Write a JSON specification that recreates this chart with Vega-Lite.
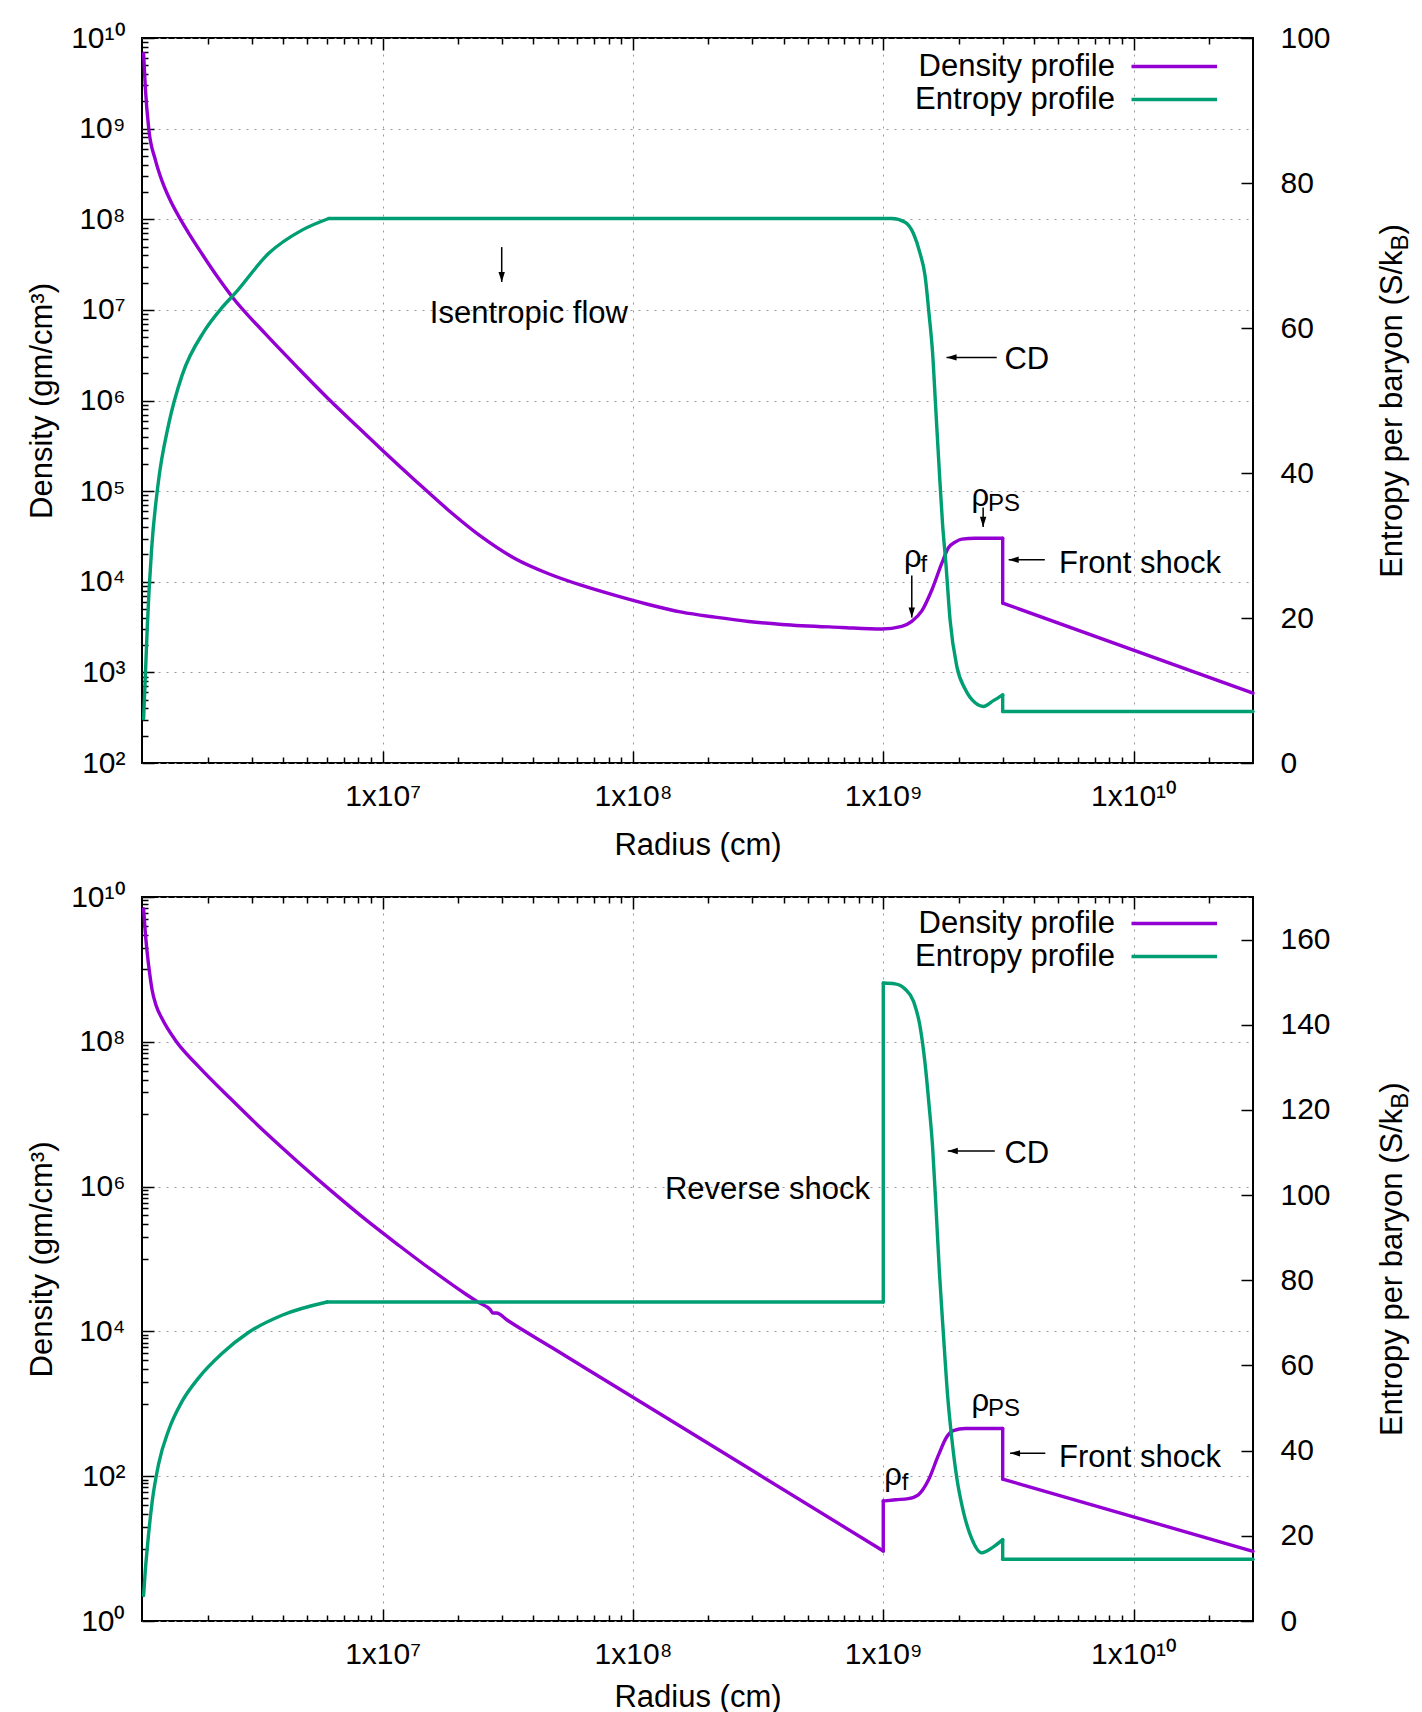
{
  "$schema": "https://vega.github.io/schema/vega-lite/v6.json",
  "background": "white",
  "padding": {"left": 25, "top": 22, "right": 4, "bottom": 0},
  "spacing": 134,
  "bounds": "flush",
  "config": {
    "font": "Liberation Sans",
    "view": {"stroke": "black", "strokeWidth": 2},
    "axis": {
      "labelFont": "Liberation Sans",
      "titleFont": "Liberation Sans",
      "labelColor": "black",
      "titleColor": "black",
      "titleFontWeight": "normal",
      "labelFontSize": 30,
      "titleFontSize": 31,
      "tickColor": "black",
      "tickWidth": 1.5,
      "domain": false,
      "labelOverlap": false,
      "labelFlush": false,
      "gridColor": "#999999",
      "gridDash": [2, 6],
      "gridWidth": 1
    },
    "line": {"strokeWidth": 3.4, "strokeJoin": "round", "strokeCap": "round", "interpolate": "monotone"},
    "text": {"color": "black", "font": "Liberation Sans"}
  },
  "datasets": {
    "topDensity": [
      {"seg": 1, "r": 1.1092e6, "rho": 6.761e9}, {"seg": 1, "r": 1.1272e6, "rho": 2.818e9}, {"seg": 1, "r": 1.1629e6, "rho": 1.0e9},
      {"seg": 1, "r": 1.2359e6, "rho": 4.519e8}, {"seg": 1, "r": 1.3183e6, "rho": 2.582e8}, {"seg": 1, "r": 1.4125e6, "rho": 1.648e8},
      {"seg": 1, "r": 1.5488e6, "rho": 1.021e8}, {"seg": 1, "r": 1.6982e6, "rho": 6.683e7}, {"seg": 1, "r": 1.8967e6, "rho": 4.159e7},
      {"seg": 1, "r": 2.1878e6, "rho": 2.317e7}, {"seg": 1, "r": 2.5119e6, "rho": 1.38e7}, {"seg": 1, "r": 3.3884e6, "rho": 5.495e6},
      {"seg": 1, "r": 4.6238e6, "rho": 2.239e6}, {"seg": 1, "r": 6.166e6, "rho": 1.0e6}, {"seg": 1, "r": 7.9433e6, "rho": 5.129e5},
      {"seg": 1, "r": 1.0e7, "rho": 2.812e5}, {"seg": 1, "r": 1.349e7, "rho": 1.312e5}, {"seg": 1, "r": 1.8365e7, "rho": 6.124e4},
      {"seg": 1, "r": 2.4946e7, "rho": 3.105e4}, {"seg": 1, "r": 3.3884e7, "rho": 1.795e4}, {"seg": 1, "r": 4.6026e7, "rho": 1.225e4},
      {"seg": 1, "r": 6.2517e7, "rho": 9099}, {"seg": 1, "r": 8.4918e7, "rho": 7063}, {"seg": 1, "r": 1.1535e8, "rho": 5610},
      {"seg": 1, "r": 1.5668e8, "rho": 4613}, {"seg": 1, "r": 2.1281e8, "rho": 4064}, {"seg": 1, "r": 2.8973e8, "rho": 3648},
      {"seg": 1, "r": 3.9355e8, "rho": 3381}, {"seg": 1, "r": 6.8234e8, "rho": 3133}, {"seg": 1, "r": 9.8628e8, "rho": 3013},
      {"seg": 1, "r": 1.1858e9, "rho": 3221}, {"seg": 1, "r": 1.3002e9, "rho": 3656}, {"seg": 1, "r": 1.4256e9, "rho": 4764},
      {"seg": 1, "r": 1.5631e9, "rho": 8110}, {"seg": 1, "r": 1.714e9, "rho": 1.603e4}, {"seg": 1, "r": 1.8197e9, "rho": 2.366e4},
      {"seg": 1, "r": 1.9364e9, "rho": 2.735e4}, {"seg": 1, "r": 2.0606e9, "rho": 2.958e4}, {"seg": 1, "r": 2.3281e9, "rho": 3.02e4},
      {"seg": 1, "r": 3.0e9, "rho": 3.02e4},
      {"seg": 2, "r": 3.0e9, "rho": 3.02e4}, {"seg": 2, "r": 3.0e9, "rho": 5821},
      {"seg": 3, "r": 3.0e9, "rho": 5821}, {"seg": 3, "r": 3.0e10, "rho": 589}
    ],
    "topEntropy": [
      {"seg": 1, "r": 1.1092e6, "s": 6.1}, {"seg": 1, "r": 1.1272e6, "s": 12}, {"seg": 1, "r": 1.1482e6, "s": 19},
      {"seg": 1, "r": 1.194e6, "s": 29.5}, {"seg": 1, "r": 1.2677e6, "s": 38.5}, {"seg": 1, "r": 1.3964e6, "s": 46.7},
      {"seg": 1, "r": 1.5812e6, "s": 53.5}, {"seg": 1, "r": 1.932e6, "s": 59.5}, {"seg": 1, "r": 2.2803e6, "s": 62.8},
      {"seg": 1, "r": 2.5763e6, "s": 64.8}, {"seg": 1, "r": 3.5075e6, "s": 70.3}, {"seg": 1, "r": 4.7643e6, "s": 73.5},
      {"seg": 1, "r": 6.0954e6, "s": 75.1},
      {"seg": 2, "r": 6.0954e6, "s": 75.1}, {"seg": 2, "r": 1.0814e9, "s": 75.1}, {"seg": 2, "r": 1.2218e9, "s": 74.6},
      {"seg": 2, "r": 1.3213e9, "s": 73.0}, {"seg": 2, "r": 1.4028e9, "s": 70.3}, {"seg": 2, "r": 1.4689e9, "s": 67.2},
      {"seg": 2, "r": 1.5241e9, "s": 61.9}, {"seg": 2, "r": 1.574e9, "s": 56.6}, {"seg": 2, "r": 1.6218e9, "s": 48.7},
      {"seg": 2, "r": 1.6711e9, "s": 40.8}, {"seg": 2, "r": 1.7258e9, "s": 32.9}, {"seg": 2, "r": 1.7783e9, "s": 27.6},
      {"seg": 2, "r": 1.8493e9, "s": 19.7}, {"seg": 2, "r": 1.9679e9, "s": 13.3}, {"seg": 2, "r": 2.1232e9, "s": 10.2},
      {"seg": 2, "r": 2.3281e9, "s": 8.3}, {"seg": 2, "r": 2.5119e9, "s": 7.8}, {"seg": 2, "r": 2.7542e9, "s": 8.6},
      {"seg": 2, "r": 3.0e9, "s": 9.4},
      {"seg": 3, "r": 3.0e9, "s": 9.4}, {"seg": 3, "r": 3.0e9, "s": 7.1},
      {"seg": 4, "r": 3.0e9, "s": 7.1}, {"seg": 4, "r": 3.0e10, "s": 7.1}
    ],
    "bottomDensity": [
      {"seg": 1, "r": 1.1092e6, "rho": 6.887e9}, {"seg": 1, "r": 1.1272e6, "rho": 3.162e9}, {"seg": 1, "r": 1.1455e6, "rho": 1.75e9},
      {"seg": 1, "r": 1.1722e6, "rho": 8.913e8}, {"seg": 1, "r": 1.1995e6, "rho": 5.2e8}, {"seg": 1, "r": 1.2445e6, "rho": 3.162e8},
      {"seg": 1, "r": 1.3152e6, "rho": 2.08e8}, {"seg": 1, "r": 1.4859e6, "rho": 1.05e8}, {"seg": 1, "r": 1.8408e6, "rho": 4.539e7},
      {"seg": 1, "r": 2.5003e6, "rho": 1.57e7}, {"seg": 1, "r": 3.3963e6, "rho": 5.623e6}, {"seg": 1, "r": 4.6238e6, "rho": 2.138e6},
      {"seg": 1, "r": 6.2806e6, "rho": 8.511e5}, {"seg": 1, "r": 8.5114e6, "rho": 3.548e5}, {"seg": 1, "r": 1.1588e7, "rho": 1.549e5},
      {"seg": 1, "r": 1.574e7, "rho": 6.998e4}, {"seg": 1, "r": 2.138e7, "rho": 3.311e4}, {"seg": 1, "r": 2.4155e7, "rho": 2.512e4},
      {"seg": 1, "r": 2.6915e7, "rho": 1.995e4}, {"seg": 1, "r": 2.7542e7, "rho": 1.799e4}, {"seg": 1, "r": 2.8510e7, "rho": 1.799e4},
      {"seg": 1, "r": 3.1623e7, "rho": 1.413e4}, {"seg": 1, "r": 4.7424e7, "rho": 5984}, {"seg": 1, "r": 1.0e8, "rho": 1230},
      {"seg": 1, "r": 3.1623e8, "rho": 107.2}, {"seg": 1, "r": 1.0e9, "rho": 9.268},
      {"seg": 2, "r": 1.0e9, "rho": 9.268}, {"seg": 2, "r": 1.0e9, "rho": 45.39},
      {"seg": 3, "r": 1.0e9, "rho": 45.39}, {"seg": 3, "r": 1.122e9, "rho": 47.32}, {"seg": 3, "r": 1.2589e9, "rho": 48.98},
      {"seg": 3, "r": 1.3804e9, "rho": 55.34}, {"seg": 3, "r": 1.5136e9, "rho": 87.7}, {"seg": 3, "r": 1.6596e9, "rho": 193.6},
      {"seg": 3, "r": 1.7947e9, "rho": 349.9}, {"seg": 3, "r": 1.9055e9, "rho": 426.6}, {"seg": 3, "r": 2.1232e9, "rho": 456.0},
      {"seg": 3, "r": 3.0e9, "rho": 456.0},
      {"seg": 4, "r": 3.0e9, "rho": 456.0}, {"seg": 4, "r": 3.0e9, "rho": 91.2},
      {"seg": 5, "r": 3.0e9, "rho": 91.2}, {"seg": 5, "r": 3.0e10, "rho": 9.162}
    ],
    "bottomEntropy": [
      {"seg": 1, "r": 1.1092e6, "s": 6.0}, {"seg": 1, "r": 1.1272e6, "s": 12}, {"seg": 1, "r": 1.1455e6, "s": 16.7},
      {"seg": 1, "r": 1.1995e6, "s": 27.9}, {"seg": 1, "r": 1.2735e6, "s": 36.9}, {"seg": 1, "r": 1.3964e6, "s": 44.8},
      {"seg": 1, "r": 1.5776e6, "s": 51.5}, {"seg": 1, "r": 1.8408e6, "s": 57.1}, {"seg": 1, "r": 2.2803e6, "s": 62.8},
      {"seg": 1, "r": 2.9174e6, "s": 67.8}, {"seg": 1, "r": 3.9628e6, "s": 71.8}, {"seg": 1, "r": 5.9979e6, "s": 74.9},
      {"seg": 2, "r": 5.9979e6, "s": 74.9}, {"seg": 2, "r": 1.0e9, "s": 74.9},
      {"seg": 3, "r": 1.0e9, "s": 74.9}, {"seg": 3, "r": 1.0e9, "s": 149.8},
      {"seg": 4, "r": 1.0e9, "s": 149.8}, {"seg": 4, "r": 1.1143e9, "s": 149.6},
      {"seg": 4, "r": 1.2218e9, "s": 148.4}, {"seg": 4, "r": 1.3213e9, "s": 145.5}, {"seg": 4, "r": 1.4028e9, "s": 139.6},
      {"seg": 4, "r": 1.4689e9, "s": 130.9}, {"seg": 4, "r": 1.5241e9, "s": 121.1}, {"seg": 4, "r": 1.574e9, "s": 111.4},
      {"seg": 4, "r": 1.6255e9, "s": 96.8}, {"seg": 4, "r": 1.6749e9, "s": 82.2}, {"seg": 4, "r": 1.7378e9, "s": 67.6},
      {"seg": 4, "r": 1.8072e9, "s": 53.0}, {"seg": 4, "r": 1.875e9, "s": 43.3}, {"seg": 4, "r": 1.9679e9, "s": 33.5},
      {"seg": 4, "r": 2.0893e9, "s": 25.7}, {"seg": 4, "r": 2.2542e9, "s": 19.4}, {"seg": 4, "r": 2.4717e9, "s": 16.0},
      {"seg": 4, "r": 2.7542e9, "s": 17.4}, {"seg": 4, "r": 3.0e9, "s": 19.1},
      {"seg": 5, "r": 3.0e9, "s": 19.1}, {"seg": 5, "r": 3.0e9, "s": 14.5},
      {"seg": 6, "r": 3.0e9, "s": 14.5}, {"seg": 6, "r": 3.0e10, "s": 14.5}
    ],
    "topArrows": [
      {"r": 2.99e7, "rho": 4.93e7, "r2": 2.99e7, "rho2": 2.03e7},
      {"r": 2.84e9, "rho": 2.99e6, "r2": 1.79e9, "rho2": 2.99e6},
      {"r": 4.42e9, "rho": 1.75e4, "r2": 3.17e9, "rho2": 1.75e4},
      {"r": 1.30e9, "rho": 1.17e4, "r2": 1.30e9, "rho2": 4.04e3},
      {"r": 2.506e9, "rho": 6.59e4, "r2": 2.506e9, "rho2": 4.03e4}
    ],
    "topHeadsLeft": [{"r": 1.79e9, "rho": 2.99e6}, {"r": 3.17e9, "rho": 1.75e4}],
    "topHeadsDown": [{"r": 2.99e7, "rho": 2.03e7}, {"r": 1.30e9, "rho": 4.04e3}, {"r": 2.506e9, "rho": 4.03e4}],
    "topLabels": [
      {"r": 3.05e9, "rho": 2.2e6, "label": "CD"},
      {"r": 5.04e9, "rho": 1.24e4, "label": "Front shock"},
      {"r": 1.21e9, "rho": 1.44e4, "label": "ρ"},
      {"r": 2.25e9, "rho": 6.82e4, "label": "ρ"}
    ],
    "topSubscripts": [
      {"r": 1.41e9, "rho": 1.27e4, "label": "f"},
      {"r": 2.62e9, "rho": 5.97e4, "label": "PS"}
    ],
    "topCentered": [{"r": 3.84e7, "rho": 7.1e6, "label": "Isentropic flow"}],
    "bottomArrows": [
      {"r": 2.79e9, "rho": 3.1e6, "r2": 1.81e9, "rho2": 3.1e6},
      {"r": 4.44e9, "rho": 207, "r2": 3.21e9, "rho2": 207}
    ],
    "bottomHeadsLeft": [{"r": 1.81e9, "rho": 3.1e6}, {"r": 3.21e9, "rho": 207}],
    "bottomLabels": [
      {"r": 3.05e9, "rho": 2.1e6, "label": "CD"},
      {"r": 5.04e9, "rho": 135, "label": "Front shock"},
      {"r": 1.009e9, "rho": 75.5, "label": "ρ"},
      {"r": 2.25e9, "rho": 796, "label": "ρ"}
    ],
    "bottomSubscripts": [
      {"r": 1.186e9, "rho": 64.4, "label": "f"},
      {"r": 2.62e9, "rho": 689, "label": "PS"}
    ],
    "bottomRightAligned": [{"r": 8.85e8, "rho": 6.7e5, "label": "Reverse shock"}]
  },
  "vconcat": [
    {
      "width": 1111,
      "height": 725,
      "layer": [
        {
          "encoding": {
            "x": {
              "field": "r", "type": "quantitative",
              "scale": {"type": "log", "domain": [1093000, 30000000000], "nice": false},
              "axis": {
                "orient": "bottom",
                "values": [2e6, 3e6, 4e6, 5e6, 6e6, 7e6, 8e6, 9e6, 1e7, 2e7, 3e7, 4e7, 5e7, 6e7, 7e7, 8e7, 9e7, 1e8, 2e8, 3e8, 4e8, 5e8, 6e8, 7e8, 8e8, 9e8, 1e9, 2e9, 3e9, 4e9, 5e9, 6e9, 7e9, 8e9, 9e9, 1e10, 2e10],
                "labelExpr": "abs(log(datum.value)/LN10-round(log(datum.value)/LN10))<0.001 ? '1x10'+['⁰','¹','²','³','⁴','⁵','⁶','⁷','⁸','⁹','¹⁰'][round(log(datum.value)/LN10)] : ''",
                "labelBaseline": "alphabetic",
                "labelPadding": 54,
                "tickSize": {"condition": {"test": "abs(log(datum.value)/LN10-round(log(datum.value)/LN10))<0.001", "value": -12}, "value": -6},
                "grid": true,
                "gridOpacity": {"condition": {"test": "abs(log(datum.value)/LN10-round(log(datum.value)/LN10))<0.001", "value": 1}, "value": 0},
                "title": "Radius (cm)",
                "titleBaseline": "alphabetic",
                "titleY": 91
              }
            },
            "y": {
              "field": "rho", "type": "quantitative",
              "scale": {"type": "log", "domain": [100, 10000000000], "nice": false},
              "axis": {
                "orient": "left",
                "values": [100, 200, 300, 400, 500, 600, 700, 800, 900, 1000, 2000, 3000, 4000, 5000, 6000, 7000, 8000, 9000, 1e4, 2e4, 3e4, 4e4, 5e4, 6e4, 7e4, 8e4, 9e4, 1e5, 2e5, 3e5, 4e5, 5e5, 6e5, 7e5, 8e5, 9e5, 1e6, 2e6, 3e6, 4e6, 5e6, 6e6, 7e6, 8e6, 9e6, 1e7, 2e7, 3e7, 4e7, 5e7, 6e7, 7e7, 8e7, 9e7, 1e8, 2e8, 3e8, 4e8, 5e8, 6e8, 7e8, 8e8, 9e8, 1e9, 2e9, 3e9, 4e9, 5e9, 6e9, 7e9, 8e9, 9e9, 1e10],
                "labelExpr": "abs(log(datum.value)/LN10-round(log(datum.value)/LN10))<0.001 ? '10'+['⁰','¹','²','³','⁴','⁵','⁶','⁷','⁸','⁹','¹⁰'][round(log(datum.value)/LN10)] : ''",
                "labelAlign": "right",
                "labelBaseline": "middle",
                "labelPadding": 29,
                "tickSize": {"condition": {"test": "abs(log(datum.value)/LN10-round(log(datum.value)/LN10))<0.001", "value": -12}, "value": -6},
                "grid": true,
                "gridOpacity": {"condition": {"test": "abs(log(datum.value)/LN10-round(log(datum.value)/LN10))<0.001", "value": 1}, "value": 0},
                "title": "Density (gm/cm³)",
                "titleAngle": 270,
                "titleBaseline": "alphabetic",
                "titleX": -91
              }
            }
          },
          "layer": [
            {
              "data": {"name": "topDensity"},
              "mark": {"type": "line"},
              "encoding": {
                "detail": {"field": "seg"},
                "order": {"value": null},
                "color": {
                  "datum": "Density profile",
                  "scale": {"domain": ["Density profile", "Entropy profile"], "range": ["#9400d3", "#009e73"]},
                  "legend": {
                    "title": null, "orient": "none", "legendX": 974, "legendY": 13,
                    "symbolType": "M0,0H17.1", "symbolSize": 100, "symbolStrokeWidth": 3,
                    "labelFontSize": 31, "labelFont": "Liberation Sans", "labelColor": "black",
                    "labelAlign": "right", "labelOffset": -32, "labelLimit": 400, "rowPadding": 1
                  }
                }
              }
            },
            {
              "data": {"name": "topArrows"},
              "mark": {"type": "rule", "color": "black", "strokeWidth": 1.5},
              "encoding": {"x2": {"field": "r2"}, "y2": {"field": "rho2"}}
            },
            {
              "data": {"name": "topHeadsLeft"},
              "mark": {"type": "point", "shape": "M0,0L2.2,-0.7L2.2,0.7Z", "size": 83, "filled": true, "color": "black", "opacity": 1}
            },
            {
              "data": {"name": "topHeadsDown"},
              "mark": {"type": "point", "shape": "M0,0L-0.7,-2.2L0.7,-2.2Z", "size": 83, "filled": true, "color": "black", "opacity": 1}
            },
            {
              "data": {"name": "topLabels"},
              "mark": {"type": "text", "align": "left", "baseline": "alphabetic", "fontSize": 31},
              "encoding": {"text": {"field": "label"}}
            },
            {
              "data": {"name": "topSubscripts"},
              "mark": {"type": "text", "align": "left", "baseline": "alphabetic", "fontSize": 24},
              "encoding": {"text": {"field": "label"}}
            },
            {
              "data": {"name": "topCentered"},
              "mark": {"type": "text", "align": "center", "baseline": "alphabetic", "fontSize": 31},
              "encoding": {"text": {"field": "label"}}
            }
          ]
        },
        {
          "encoding": {
            "x": {
              "field": "r", "type": "quantitative",
              "scale": {"type": "log", "domain": [1093000, 30000000000], "nice": false},
              "axis": {
                "orient": "top",
                "values": [2e6, 3e6, 4e6, 5e6, 6e6, 7e6, 8e6, 9e6, 1e7, 2e7, 3e7, 4e7, 5e7, 6e7, 7e7, 8e7, 9e7, 1e8, 2e8, 3e8, 4e8, 5e8, 6e8, 7e8, 8e8, 9e8, 1e9, 2e9, 3e9, 4e9, 5e9, 6e9, 7e9, 8e9, 9e9, 1e10, 2e10],
                "labels": false,
                "grid": false,
                "title": null,
                "tickSize": {"condition": {"test": "abs(log(datum.value)/LN10-round(log(datum.value)/LN10))<0.001", "value": -12}, "value": -6}
              }
            },
            "y": {
              "field": "s", "type": "quantitative",
              "scale": {"domain": [0, 100], "nice": false},
              "axis": {
                "orient": "right",
                "values": [0, 20, 40, 60, 80, 100],
                "title": null,
                "grid": false,
                "tickSize": -12,
                "labelPadding": 39,
                "labelAlign": "left",
                "labelBaseline": "middle"
              }
            }
          },
          "layer": [
            {
              "data": {"name": "topEntropy"},
              "mark": {"type": "line"},
              "encoding": {"detail": {"field": "seg"}, "order": {"value": null}, "color": {"datum": "Entropy profile"}}
            },
            {
              "data": {"values": [{"r": 3.0e10, "s": 70.7, "label": "Entropy per baryon (S/k"}]},
              "mark": {"type": "text", "angle": 270, "align": "right", "baseline": "alphabetic", "fontSize": 31, "dy": 149},
              "encoding": {"text": {"field": "label"}}
            },
            {
              "data": {"values": [{"r": 3.0e10, "s": 70.7, "label": "B"}]},
              "mark": {"type": "text", "angle": 270, "align": "left", "baseline": "alphabetic", "fontSize": 24, "dy": 155},
              "encoding": {"text": {"field": "label"}}
            },
            {
              "data": {"values": [{"r": 3.0e10, "s": 70.7, "label": ")"}]},
              "mark": {"type": "text", "angle": 270, "align": "left", "baseline": "alphabetic", "fontSize": 31, "dx": 16, "dy": 149},
              "encoding": {"text": {"field": "label"}}
            }
          ]
        }
      ],
      "resolve": {"scale": {"x": "independent", "y": "independent"}, "axis": {"x": "independent", "y": "independent"}}
    },
    {
      "width": 1111,
      "height": 724,
      "layer": [
        {
          "encoding": {
            "x": {
              "field": "r", "type": "quantitative",
              "scale": {"type": "log", "domain": [1093000, 30000000000], "nice": false},
              "axis": {
                "orient": "bottom",
                "values": [2e6, 3e6, 4e6, 5e6, 6e6, 7e6, 8e6, 9e6, 1e7, 2e7, 3e7, 4e7, 5e7, 6e7, 7e7, 8e7, 9e7, 1e8, 2e8, 3e8, 4e8, 5e8, 6e8, 7e8, 8e8, 9e8, 1e9, 2e9, 3e9, 4e9, 5e9, 6e9, 7e9, 8e9, 9e9, 1e10, 2e10],
                "labelExpr": "abs(log(datum.value)/LN10-round(log(datum.value)/LN10))<0.001 ? '1x10'+['⁰','¹','²','³','⁴','⁵','⁶','⁷','⁸','⁹','¹⁰'][round(log(datum.value)/LN10)] : ''",
                "labelBaseline": "alphabetic",
                "labelPadding": 54,
                "tickSize": {"condition": {"test": "abs(log(datum.value)/LN10-round(log(datum.value)/LN10))<0.001", "value": -12}, "value": -6},
                "grid": true,
                "gridOpacity": {"condition": {"test": "abs(log(datum.value)/LN10-round(log(datum.value)/LN10))<0.001", "value": 1}, "value": 0},
                "title": "Radius (cm)",
                "titleBaseline": "alphabetic",
                "titleY": 85
              }
            },
            "y": {
              "field": "rho", "type": "quantitative",
              "scale": {"type": "log", "domain": [1, 10000000000], "nice": false},
              "axis": {
                "orient": "left",
                "values": [1, 10, 20, 30, 40, 50, 60, 70, 80, 90, 100, 1000, 2000, 3000, 4000, 5000, 6000, 7000, 8000, 9000, 1e4, 1e5, 2e5, 3e5, 4e5, 5e5, 6e5, 7e5, 8e5, 9e5, 1e6, 1e7, 2e7, 3e7, 4e7, 5e7, 6e7, 7e7, 8e7, 9e7, 1e8, 1e9, 2e9, 3e9, 4e9, 5e9, 6e9, 7e9, 8e9, 9e9, 1e10],
                "labelExpr": "abs(log(datum.value)/LN10-round(log(datum.value)/LN10))<0.001 && round(log(datum.value)/LN10)%2==0 ? '10'+['⁰','¹','²','³','⁴','⁵','⁶','⁷','⁸','⁹','¹⁰'][round(log(datum.value)/LN10)] : ''",
                "labelAlign": "right",
                "labelBaseline": "middle",
                "labelPadding": 29,
                "tickSize": {"condition": {"test": "abs(log(datum.value)/LN10-round(log(datum.value)/LN10))<0.001 && round(log(datum.value)/LN10)%2==0", "value": -12}, "value": -6},
                "grid": true,
                "gridOpacity": {"condition": {"test": "abs(log(datum.value)/LN10-round(log(datum.value)/LN10))<0.001 && round(log(datum.value)/LN10)%2==0", "value": 1}, "value": 0},
                "title": "Density (gm/cm³)",
                "titleAngle": 270,
                "titleBaseline": "alphabetic",
                "titleX": -91
              }
            }
          },
          "layer": [
            {
              "data": {"name": "bottomDensity"},
              "mark": {"type": "line"},
              "encoding": {
                "detail": {"field": "seg"},
                "order": {"value": null},
                "color": {
                  "datum": "Density profile",
                  "scale": {"domain": ["Density profile", "Entropy profile"], "range": ["#9400d3", "#009e73"]},
                  "legend": {
                    "title": null, "orient": "none", "legendX": 974, "legendY": 11,
                    "symbolType": "M0,0H17.1", "symbolSize": 100, "symbolStrokeWidth": 3,
                    "labelFontSize": 31, "labelFont": "Liberation Sans", "labelColor": "black",
                    "labelAlign": "right", "labelOffset": -32, "labelLimit": 400, "rowPadding": 1
                  }
                }
              }
            },
            {
              "data": {"name": "bottomArrows"},
              "mark": {"type": "rule", "color": "black", "strokeWidth": 1.5},
              "encoding": {"x2": {"field": "r2"}, "y2": {"field": "rho2"}}
            },
            {
              "data": {"name": "bottomHeadsLeft"},
              "mark": {"type": "point", "shape": "M0,0L2.2,-0.7L2.2,0.7Z", "size": 83, "filled": true, "color": "black", "opacity": 1}
            },
            {
              "data": {"name": "bottomLabels"},
              "mark": {"type": "text", "align": "left", "baseline": "alphabetic", "fontSize": 31},
              "encoding": {"text": {"field": "label"}}
            },
            {
              "data": {"name": "bottomSubscripts"},
              "mark": {"type": "text", "align": "left", "baseline": "alphabetic", "fontSize": 24},
              "encoding": {"text": {"field": "label"}}
            },
            {
              "data": {"name": "bottomRightAligned"},
              "mark": {"type": "text", "align": "right", "baseline": "alphabetic", "fontSize": 31},
              "encoding": {"text": {"field": "label"}}
            }
          ]
        },
        {
          "encoding": {
            "x": {
              "field": "r", "type": "quantitative",
              "scale": {"type": "log", "domain": [1093000, 30000000000], "nice": false},
              "axis": {
                "orient": "top",
                "values": [2e6, 3e6, 4e6, 5e6, 6e6, 7e6, 8e6, 9e6, 1e7, 2e7, 3e7, 4e7, 5e7, 6e7, 7e7, 8e7, 9e7, 1e8, 2e8, 3e8, 4e8, 5e8, 6e8, 7e8, 8e8, 9e8, 1e9, 2e9, 3e9, 4e9, 5e9, 6e9, 7e9, 8e9, 9e9, 1e10, 2e10],
                "labels": false,
                "grid": false,
                "title": null,
                "tickSize": {"condition": {"test": "abs(log(datum.value)/LN10-round(log(datum.value)/LN10))<0.001", "value": -12}, "value": -6}
              }
            },
            "y": {
              "field": "s", "type": "quantitative",
              "scale": {"domain": [0, 170], "nice": false},
              "axis": {
                "orient": "right",
                "values": [0, 20, 40, 60, 80, 100, 120, 140, 160],
                "title": null,
                "grid": false,
                "tickSize": -12,
                "labelPadding": 39,
                "labelAlign": "left",
                "labelBaseline": "middle"
              }
            }
          },
          "layer": [
            {
              "data": {"name": "bottomEntropy"},
              "mark": {"type": "line"},
              "encoding": {"detail": {"field": "seg"}, "order": {"value": null}, "color": {"datum": "Entropy profile"}}
            },
            {
              "data": {"values": [{"r": 3.0e10, "s": 120.3, "label": "Entropy per baryon (S/k"}]},
              "mark": {"type": "text", "angle": 270, "align": "right", "baseline": "alphabetic", "fontSize": 31, "dy": 149},
              "encoding": {"text": {"field": "label"}}
            },
            {
              "data": {"values": [{"r": 3.0e10, "s": 120.3, "label": "B"}]},
              "mark": {"type": "text", "angle": 270, "align": "left", "baseline": "alphabetic", "fontSize": 24, "dy": 155},
              "encoding": {"text": {"field": "label"}}
            },
            {
              "data": {"values": [{"r": 3.0e10, "s": 120.3, "label": ")"}]},
              "mark": {"type": "text", "angle": 270, "align": "left", "baseline": "alphabetic", "fontSize": 31, "dx": 16, "dy": 149},
              "encoding": {"text": {"field": "label"}}
            }
          ]
        }
      ],
      "resolve": {"scale": {"x": "independent", "y": "independent"}, "axis": {"x": "independent", "y": "independent"}}
    }
  ],
  "resolve": {"scale": {"color": "independent"}, "legend": {"color": "independent"}}
}
